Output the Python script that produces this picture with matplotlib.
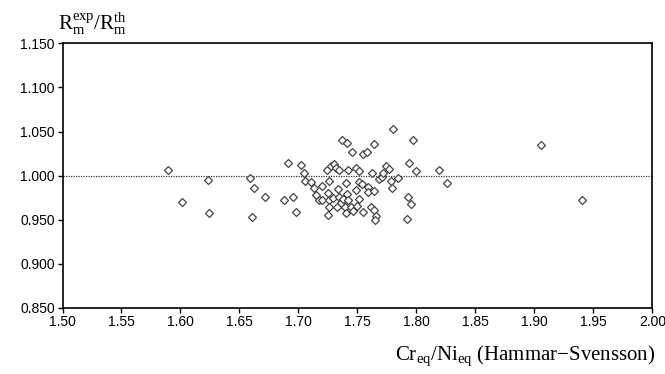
import numpy as np
import matplotlib
matplotlib.use('Agg')
import matplotlib.pyplot as plt

plt.rcParams['font.family'] = ['Liberation Sans', 'DejaVu Sans']
plt.rcParams['mathtext.fontset'] = 'custom'
plt.rcParams['mathtext.rm'] = 'Liberation Serif'
plt.rcParams['mathtext.it'] = 'Liberation Serif:italic'

# Cr_eq/Ni_eq ratio (x) and R_m exp/th ratio (y)
cr_ni = [1.589, 1.601, 1.623, 1.624, 1.659, 1.6625, 1.672, 1.661,
         1.6908, 1.7024, 1.7044, 1.7052, 1.6874, 1.6956, 1.6982, 1.7109,
         1.7134, 1.7146, 1.7171, 1.7199, 1.7202, 1.7239, 1.7261, 1.7275,
         1.7301, 1.7321, 1.7343, 1.7250, 1.7256, 1.7295, 1.7261, 1.7253,
         1.7338, 1.7343, 1.7360, 1.7323, 1.7366, 1.7414, 1.7451, 1.7417,
         1.7403, 1.7414, 1.7380, 1.7422, 1.7391, 1.7442, 1.7403, 1.7459,
         1.7490, 1.7516, 1.7510, 1.7490, 1.7510, 1.7493, 1.7547, 1.7578,
         1.7640, 1.7538, 1.7592, 1.7589, 1.7550, 1.7612, 1.7620, 1.7637,
         1.7643, 1.7657, 1.7651, 1.7685, 1.7705, 1.7742, 1.7767, 1.7719,
         1.7781, 1.7795, 1.7840, 1.7804, 1.7968, 1.7939, 1.7996, 1.7931,
         1.7953, 1.7917, 1.8194, 1.8261, 1.9055, 1.9405]
rm_ratio = [1.006, 0.970, 0.995, 0.957, 0.997, 0.986, 0.976, 0.953,
            1.0148, 1.0118, 1.0034, 0.9940, 0.9721, 0.9762, 0.9588, 0.9929,
            0.9857, 0.9781, 0.9721, 0.9879, 0.9721, 1.0065, 0.9940, 1.0110,
            1.0129, 1.0091, 1.0065, 0.9800, 0.9721, 0.9751, 0.9645, 0.9551,
            0.9845, 0.9762, 0.9690, 0.9645, 1.0401, 1.0371, 1.0272, 1.0061,
            0.9917, 0.9796, 0.9740, 0.9724, 0.9638, 0.9645, 0.9577, 0.9600,
            1.0091, 1.0053, 0.9925, 0.9834, 0.9732, 0.9653, 1.0242, 1.0272,
            1.0363, 0.9902, 0.9872, 0.9819, 0.9588, 0.9645, 1.0027, 0.9827,
            0.9607, 0.9543, 0.9494, 0.9959, 0.9985, 1.0106, 1.0072, 1.0034,
            0.9940, 0.9857, 0.9978, 1.0529, 1.0405, 1.0140, 1.0053, 0.9758,
            0.9683, 0.9505, 1.0061, 0.9921, 1.0351, 0.9724]

xticks = np.arange(1.50, 2.001, 0.05)
yticks = np.arange(0.85, 1.1501, 0.05)

fig = plt.figure(figsize=(6.65, 3.74), dpi=100)
ax = fig.add_axes([0.094, 0.177, 0.887, 0.707])

ax.axhline(1.0, color='#333333', lw=0.9, ls=(0, (1, 1)), zorder=1)
ax.plot(cr_ni, rm_ratio, ls='none', marker='D', ms=4.3, mfc='white',
        mec='#444444', mew=0.9, zorder=2)

ax.set_xlim(1.50, 2.00)
ax.set_ylim(0.85, 1.15)
ax.set_xticks(xticks)
ax.set_yticks(yticks)
ax.set_xticklabels(['%.2f' % v for v in xticks])
ax.set_yticklabels(['%.3f' % v for v in yticks])
ax.tick_params(direction='out', length=3.5, width=1, labelsize=10, pad=2,
               colors='black')
for s in ax.spines.values():
    s.set_linewidth(1.2)

fig.text(0.087, 0.935, r'$\mathrm{R_m^{exp}/R_m^{th}}$', fontsize=15,
         ha='left', va='center')
fig.text(0.985, 0.05, r'$\mathrm{Cr_{eq}/Ni_{eq}}$ (Hammar$-$Svensson)',
         fontsize=15, ha='right', va='center', family='Liberation Serif')

fig.savefig('out.png', dpi=100)
